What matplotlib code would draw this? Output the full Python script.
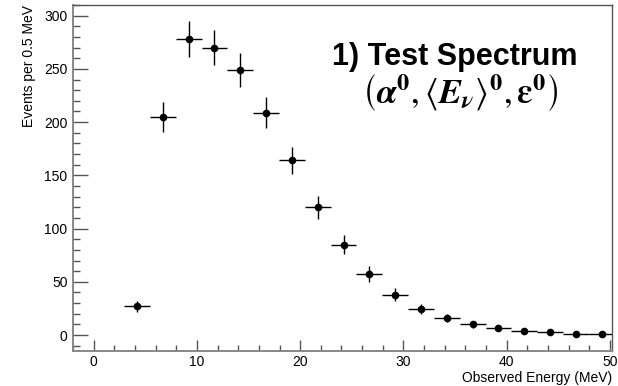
import matplotlib
matplotlib.use("Agg")
import matplotlib.pyplot as plt
from matplotlib.ticker import MultipleLocator

# bin centres (MeV), counts per bin and their statistical errors
energy = [4.2, 6.7, 9.2, 11.7, 14.2, 16.7, 19.2, 21.7, 24.2, 26.7,
          29.2, 31.7, 34.2, 36.7, 39.2, 41.7, 44.2, 46.7, 49.2]
counts = [27, 205, 278, 270, 249, 209, 164, 120, 85, 57,
          38, 24.5, 16, 10, 6.5, 3.8, 2.6, 1.3, 1.2]
count_err = [5.2, 14.3, 16.7, 16.4, 15.8, 14.5, 12.8, 11.0, 9.2, 7.5,
             6.2, 5.0, 4.0, 3.2, 2.6, 1.9, 1.6, 1.1, 1.1]
bin_half = 1.25

plt.rcParams["font.family"] = ["Liberation Sans", "DejaVu Sans"]
plt.rcParams["mathtext.fontset"] = "stix"

fig = plt.figure(figsize=(6.18, 3.86), dpi=100)
ax = fig.add_axes([73 / 618, 35 / 386, 539 / 618, 346 / 386])

ax.errorbar(energy, counts, xerr=bin_half, yerr=count_err, fmt="o",
            color="black", ms=4.5, elinewidth=1, capsize=0)

ax.set_xlim(-2, 50.2)
ax.set_ylim(-15, 310)
ax.xaxis.set_major_locator(MultipleLocator(10))
ax.xaxis.set_minor_locator(MultipleLocator(2))
ax.yaxis.set_major_locator(MultipleLocator(50))
ax.yaxis.set_minor_locator(MultipleLocator(10))

tick_col = "#555555"
ax.tick_params(which="both", direction="in", top=False, right=False,
               colors=tick_col, labelcolor="black", labelsize=10)
ax.tick_params(axis="y", which="major", length=10.5, width=1, pad=4)
ax.tick_params(axis="y", which="minor", length=5, width=1)
ax.tick_params(axis="x", which="major", length=8, width=1, pad=3)
ax.tick_params(axis="x", which="minor", length=4.3, width=1)
for side in ["left", "bottom"]:
    ax.spines[side].set_color("#888888")
    ax.spines[side].set_linewidth(1.4)
for side in ["top", "right"]:
    ax.spines[side].set_color("#555555")
    ax.spines[side].set_linewidth(1)

ax.set_ylabel("Events per 0.5 MeV", fontsize=10, loc="top", labelpad=6)
ax.set_xlabel("Observed Energy (MeV)", fontsize=10, loc="right", labelpad=1)

fig.text(455 / 618, (386 - 65) / 386, "1) Test Spectrum", ha="center",
         va="baseline", fontsize=22, fontweight="bold")
fig.text(460 / 618, (386 - 104) / 386,
         r"$\left(\boldsymbol{\alpha}^{\mathbf{0}},\langle\boldsymbol{E}_{\boldsymbol{\nu}}\rangle^{\mathbf{0}},"
         r"\boldsymbol{\varepsilon}^{\mathbf{0}}\right)$",
         ha="center", va="baseline", fontsize=25)

fig.savefig("out.png", dpi=100, facecolor="white")
